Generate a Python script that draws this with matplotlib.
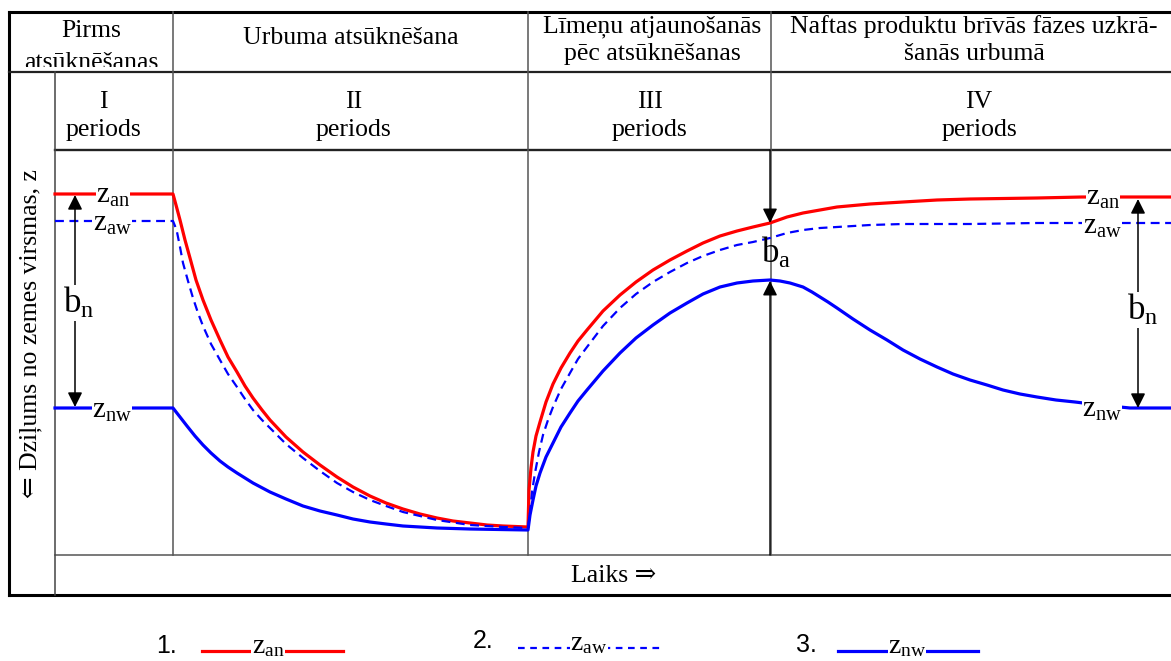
import numpy as np
import matplotlib
matplotlib.use('Agg')
import matplotlib.pyplot as plt
from matplotlib.transforms import Bbox

plt.rcParams['font.family'] = ['Liberation Serif', 'DejaVu Serif']
plt.rcParams['mathtext.fontset'] = 'custom'
plt.rcParams['mathtext.rm'] = 'Liberation Serif'
plt.rcParams['mathtext.it'] = 'Liberation Serif:italic'

# schematic time axis / depth (downwards)
t_an = [55, 173, 176, 180, 185, 190, 196, 203, 211, 220, 228, 237, 245, 253, 262, 270, 286, 303, 320,
        337, 353, 370, 386, 403, 420, 437, 453, 470, 487, 503, 528,
        529, 531, 533, 536, 540, 546, 553, 561, 570, 578, 587, 603, 620, 636, 653, 670, 687, 703,
        720, 737, 753, 770, 787, 803, 820, 837, 870, 903, 937, 970, 1037, 1082, 1171]
z_an = [194, 194, 205, 220, 240, 258, 280, 300, 320, 340, 357, 372, 386, 398, 410, 420, 437, 452, 465,
        477, 487, 496, 503, 509, 514, 518, 521, 523, 525, 526, 527,
        490, 468, 452, 436, 422, 402, 384, 368, 353, 341, 330, 311, 295, 282, 270, 260, 251, 243,
        236, 231, 227, 223, 217, 213, 210, 207, 204, 202, 200, 199, 198, 197, 197]

t_aw = [55, 173, 175, 177, 180, 183, 188, 193, 198, 203, 211, 220, 228, 237, 245, 253, 262, 270, 286,
        303, 320, 337, 353, 370, 386, 403, 420, 437, 470, 503, 528,
        530, 532, 535, 539, 543, 548, 553, 561, 570, 578, 587, 603, 620, 636, 653, 670, 687, 703,
        720, 737, 753, 770, 787, 803, 820, 837, 870, 903, 970, 1037, 1171]
z_aw = [221, 221, 226, 232, 247, 263, 281, 298, 313, 326, 344, 360, 374, 387, 399, 410, 420, 428, 444,
        458, 471, 483, 492, 500, 506, 512, 516, 520, 525, 527, 528,
        513, 492, 473, 452, 435, 420, 407, 389, 373, 359, 347, 326, 308, 294, 282, 272, 263, 256,
        250, 245, 242, 238, 233, 230, 228, 227, 225, 224, 224, 223, 223]

t_nw = [55, 173, 180, 187, 195, 203, 211, 220, 228, 237, 253, 270, 286, 303, 320, 337, 353, 370, 386,
        403, 437, 470, 528,
        530, 533, 536, 540, 546, 553, 561, 570, 578, 587, 603, 620, 636, 653, 670, 687, 703, 720,
        737, 753, 770, 780, 790, 803, 812, 820, 828, 837, 853, 870, 887, 903, 920, 937, 953, 970,
        987, 1003, 1020, 1037, 1056, 1075, 1100, 1130, 1171]
z_nw = [408, 408, 417, 426, 436, 445, 453, 461, 467, 473, 483, 492, 499, 506, 511, 515, 519, 522, 524,
        526, 528, 529, 530,
        515, 500, 486, 473, 457, 443, 427, 413, 401, 390, 371, 353, 338, 325, 313, 303, 294, 287,
        283, 281, 280, 281, 283, 287, 292, 297, 302, 308, 319, 330, 340, 350, 359, 367, 374, 380,
        385, 390, 394, 397, 400, 402, 405, 408, 408]

period_edges = [55, 173, 528, 771, 1171]
phase_titles = ['Pirms\natsūknēšanas', 'Urbuma atsūknēšana',
                'Līmeņu atjaunošanās\npēc atsūknēšanas',
                'Naftas produktu brīvās fāzes uzkrā-\nšanās urbumā']
phase_x = [91, 351, 652, 974]
phase_y = [47, 38, 40, 40]
period_names = ['I\nperiods', 'II\nperiods', 'III\nperiods', 'IV\nperiods']
period_x = [103, 354, 650, 979]

RED = '#ff0000'
BLUE = '#0000ff'

fig = plt.figure(figsize=(11.71, 6.61), dpi=100)
ax = fig.add_axes([0, 0, 1, 1])
ax.set_xlim(0, 1171)
ax.set_ylim(661, 0)
ax.axis('off')

# table frame
top, row1, row2, plot_bot, bottom, left, ylab = 12, 72, 150, 555, 595, 9, 55
ax.plot([left, 1171], [top, top], color='black', lw=2.2)
ax.plot([left, 1171], [bottom, bottom], color='black', lw=2.2)
ax.plot([left, left], [top, bottom], color='black', lw=2.2)
ax.plot([left, 1171], [row1, row1], color='#222222', lw=1.6)
ax.plot([ylab, 1171], [row2, row2], color='#222222', lw=1.7)
ax.plot([ylab, 1171], [plot_bot, plot_bot], color='#555555', lw=1.1)
ax.plot([ylab, ylab], [row1, bottom], color='#444444', lw=1.1)
for xe in period_edges[1:-1]:
    ax.plot([xe, xe], [top, plot_bot], color='#555555', lw=1.1)

# first header cell is cut off at the bottom, as in the original drawing
corners = ax.transData.transform([(left, top), (period_edges[1], 67)])
clip_box = Bbox.from_extents(corners[:, 0].min(), corners[:, 1].min(),
                             corners[:, 0].max(), corners[:, 1].max())
for i, title in enumerate(phase_titles):
    t = ax.text(phase_x[i], phase_y[i], title, ha='center', va='center', fontsize=18.5,
                linespacing=1.55 if i == 0 else 1.3)
    if i == 0:
        t.set_clip_on(True)
        t.set_clip_box(clip_box)
for i, name in enumerate(period_names):
    ax.text(period_x[i], 116, name, ha='center', va='center', fontsize=18.5, linespacing=1.3)

ax.text(31, 334, '⇐ Dziļums no zemes virsmas, z', rotation=90, ha='center', va='center', fontsize=18.5)
ax.text(614, 576, 'Laiks ⇒', ha='center', va='center', fontsize=18.5)

# curves
ax.plot(t_an, z_an, color=RED, lw=2.3, zorder=3, solid_joinstyle='round')
ax.plot(t_aw, z_aw, color=BLUE, lw=1.6, ls=(0, (4, 2.5)), zorder=3)
ax.plot(t_nw, z_nw, color=BLUE, lw=2.3, zorder=3, solid_joinstyle='round')

box = dict(fc='white', ec='none', pad=0.3)
lab_an = r'$\mathrm{z_{an}}$'
lab_aw = r'$\mathrm{z_{aw}}$'
lab_nw = r'$\mathrm{z_{nw}}$'
zs = 21
ax.text(113, 196, lab_an, ha='center', va='center', fontsize=zs, bbox=box, zorder=5)
ax.text(112, 224, lab_aw, ha='center', va='center', fontsize=zs, bbox=box, zorder=5)
ax.text(112, 411, lab_nw, ha='center', va='center', fontsize=zs, bbox=box, zorder=5)
ax.text(1103, 198, lab_an, ha='center', va='center', fontsize=zs, bbox=box, zorder=5)
ax.text(1102, 227, lab_aw, ha='center', va='center', fontsize=zs, bbox=box, zorder=5)
ax.text(1102, 410, lab_nw, ha='center', va='center', fontsize=zs, bbox=box, zorder=5)

# arrows
arr2 = dict(arrowstyle='<|-|>', color='black', lw=1.1, mutation_scale=22, shrinkA=0, shrinkB=0)
arr1 = dict(arrowstyle='-|>', color='black', lw=1.0, mutation_scale=22, shrinkA=0, shrinkB=0)
ax.annotate('', xy=(75, z_an[0] + 1), xytext=(75, z_nw[0] - 1), arrowprops=arr2, zorder=4)
ax.annotate('', xy=(1138, z_an[-1] + 2), xytext=(1138, z_nw[-1]), arrowprops=arr2, zorder=4)
ax.text(79, 303, r'$\mathrm{b_n}$', ha='center', va='center', fontsize=25, bbox=box, zorder=5)
ax.text(1143, 310, r'$\mathrm{b_n}$', ha='center', va='center', fontsize=25, bbox=box, zorder=5)

xa = period_edges[3] - 1
ax.annotate('', xy=(xa, np.interp(xa, t_an, z_an)), xytext=(xa, row2), arrowprops=arr1, zorder=4)
ax.annotate('', xy=(xa, np.interp(xa, t_nw, z_nw) + 1), xytext=(xa, plot_bot), arrowprops=arr1, zorder=4)
ax.text(776, 253, r'$\mathrm{b_a}$', ha='center', va='center', fontsize=25, zorder=5)

# legend row
leg_x = [167, 483, 806]
leg_y = [646, 641, 645]
for k in range(3):
    ax.text(leg_x[k], leg_y[k], f'{k + 1}.', family='Liberation Sans', fontsize=18, ha='center', va='center')
ax.plot([202, 343], [651, 651], color=RED, lw=2.3)
ax.plot([518, 662], [648, 648], color=BLUE, lw=1.6, ls=(0, (3, 2.5)))
ax.plot([838, 978], [651, 651], color=BLUE, lw=2.3)
ax.text(268, 647, lab_an, ha='center', va='center', fontsize=20, bbox=box, zorder=5)
ax.text(589, 644, lab_aw, ha='center', va='center', fontsize=20, bbox=box, zorder=5)
ax.text(907, 647, lab_nw, ha='center', va='center', fontsize=20, bbox=box, zorder=5)

fig.savefig('out.png', dpi=100)
